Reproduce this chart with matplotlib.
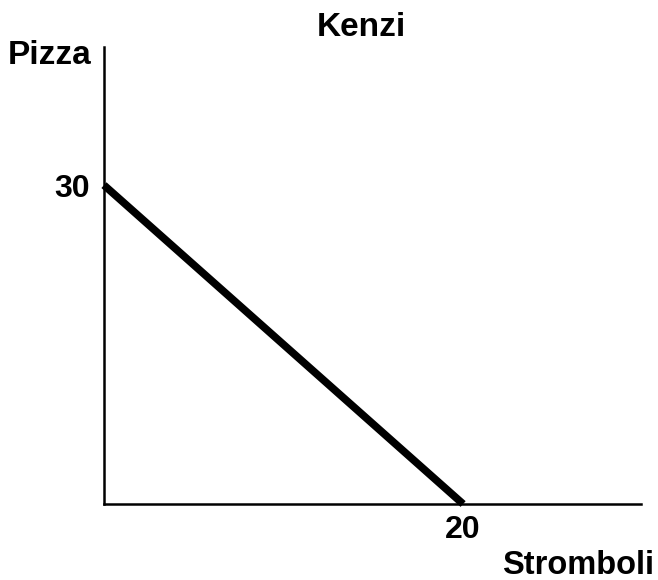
import matplotlib
matplotlib.use('Agg')
import matplotlib.pyplot as plt

# production possibilities for Kenzi
stromboli = [0, 20]
pizza = [30, 0]
x_ticks = [20]
y_ticks = [30]

plt.rcParams['font.family'] = ['Liberation Sans', 'DejaVu Sans']
plt.rcParams['font.weight'] = 'bold'

fig = plt.figure(figsize=(6.58, 5.8), dpi=100)
ax = fig.add_axes([0.158, 0.131, 0.816, 0.788])

ax.plot(stromboli, pizza, color='black', linewidth=5.5, solid_capstyle='butt', clip_on=False)

ax.set_xlim(0, 29.9)
ax.set_ylim(0, 43)
for side in ['top', 'right']:
    ax.spines[side].set_visible(False)
for side in ['left', 'bottom']:
    ax.spines[side].set_linewidth(1.8)

ax.set_xticks(x_ticks)
ax.set_yticks(y_ticks)
ax.set_xticklabels([str(v) for v in x_ticks], fontsize=23, fontweight='bold')
ax.set_yticklabels([str(v) for v in y_ticks], fontsize=23, fontweight='bold')
ax.tick_params(axis='y', length=0, pad=10)
ax.tick_params(axis='x', length=0, pad=8)

fig.text(361 / 658, 1 - 27 / 580, 'Kenzi', ha='center', va='center', fontsize=24, fontweight='bold')
fig.text(8 / 658, 1 - 55 / 580, 'Pizza', ha='left', va='center', fontsize=24, fontweight='bold')
fig.text(654 / 658, 1 - 565 / 580, 'Stromboli', ha='right', va='center', fontsize=23.5, fontweight='bold')

fig.savefig('out.png', dpi=100, facecolor='white')
